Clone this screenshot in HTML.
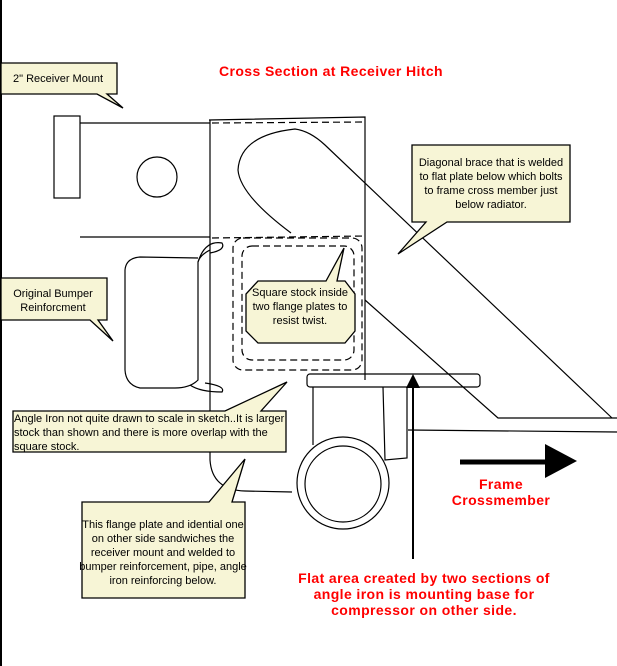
<!DOCTYPE html>
<html><head><meta charset="utf-8"><style>
html,body{margin:0;padding:0;background:#fff}
svg{display:block}
.c{fill:#f7f5d6;stroke:#000;stroke-width:1.3}
.t{font-family:"Liberation Sans",Arial,sans-serif;font-size:11px;fill:#000}
.r{font-family:"Liberation Sans",Arial,sans-serif;font-size:14px;font-weight:bold;fill:#ff0000;letter-spacing:0.4px}
.s{fill:none;stroke:#000;stroke-width:1.2}
.d{fill:none;stroke:#000;stroke-width:1.2;stroke-dasharray:7 4}
</style></head><body>
<svg width="617" height="666" viewBox="0 0 617 666" xmlns="http://www.w3.org/2000/svg">
<rect x="0" y="0" width="2" height="666" fill="#000"/>
<text class="r" x="331" y="76" text-anchor="middle">Cross Section at Receiver Hitch</text>

<!-- receiver -->
<rect class="s" x="54" y="116" width="26" height="82"/>
<line class="s" x1="80" y1="123" x2="210" y2="123"/>
<line class="s" x1="80" y1="237" x2="210" y2="237"/>
<circle class="s" cx="157" cy="177" r="20"/>

<!-- flange plate -->
<path class="s" d="M209,120 L365,117 L365,380"/>
<path class="s" d="M210,120 L210,460 Q212,490 245,491 L292,492"/>
<line class="d" x1="212" y1="123" x2="365" y2="122"/>
<line class="d" x1="212" y1="238" x2="365" y2="236"/>
<path class="s" d="M291,233 Q240,195 238,170 Q240,135 295,129 Q310,131 325,145 L612,418"/>
<path class="s" d="M365,300 L498,418 L617,418"/>
<line class="s" x1="408" y1="430" x2="617" y2="432"/>

<!-- square stock -->
<rect class="d" x="233" y="238" width="129" height="132" rx="10"/>
<rect class="d" x="242" y="246" width="112" height="114" rx="10"/>

<!-- bumper -->
<path class="s" d="M210,250 Q200,255 198,262 L198,380 Q190,388 175,388 L140,388 Q126,385 125,370 L125,270 Q126,258 140,257 L198,258"/>
<path class="s" d="M198,262 Q205,240 222,243 Q226,250 210,253"/>
<path class="s" d="M190,385 Q200,392 222,392 Q226,386 205,383"/>

<!-- angle iron / wheel -->
<rect class="s" x="307" y="374" width="173" height="13" rx="3"/>
<path class="s" d="M313,387 L313,445 M383,387 L385,460 L407,458 L407,387"/>
<circle class="s" cx="343" cy="483" r="46"/>
<circle class="s" cx="343" cy="484" r="38"/>

<!-- arrows -->
<line x1="413" y1="559" x2="413" y2="385" stroke="#000" stroke-width="2"/>
<polygon points="406,388 413,374 420,388" fill="#000"/>
<line x1="460" y1="462" x2="548" y2="462" stroke="#000" stroke-width="5"/>
<polygon points="545,444 577,461 545,478" fill="#000"/>
<text class="r" x="501" y="489" text-anchor="middle">Frame</text>
<text class="r" x="501" y="505" text-anchor="middle">Crossmember</text>
<text class="r" x="424" y="583" text-anchor="middle">Flat area created by two sections of</text>
<text class="r" x="424" y="599" text-anchor="middle">angle iron is mounting base for</text>
<text class="r" x="424" y="615" text-anchor="middle">compressor on other side.</text>

<!-- callouts -->
<path class="c" d="M1,63 L117,63 L117,94 L107,94 L123,108 L97,94 L1,94 Z"/>
<text class="t" x="13" y="82">2" Receiver Mount</text>

<path class="c" d="M412,145 L570,145 L570,222 L447,222 L398,254 L426,222 L412,222 Z"/>
<text class="t" text-anchor="middle" x="491" y="166">Diagonal  brace that is welded</text>
<text class="t" text-anchor="middle" x="491" y="180">to flat plate below which bolts</text>
<text class="t" text-anchor="middle" x="491" y="194">to frame cross member just</text>
<text class="t" text-anchor="middle" x="491" y="208">below radiator.</text>

<path class="c" d="M1,278 L107,278 L107,320 L98,320 L113,341 L90,320 L1,320 Z"/>
<text class="t" text-anchor="middle" x="53" y="297">Original Bumper</text>
<text class="t" text-anchor="middle" x="53" y="311">Reinforcment</text>

<path class="c" d="M258,281 L326,281 L344,248 L337,281 L345,281 L355,294 L355,331 L345,343 L258,343 L246,331 L246,294 Z"/>
<text class="t" text-anchor="middle" x="300" y="296">Square stock inside</text>
<text class="t" text-anchor="middle" x="300" y="310">two flange plates to</text>
<text class="t" text-anchor="middle" x="300" y="324">resist twist.</text>

<path class="c" d="M13,411 L225,411 L287,382 L261,411 L286,411 L286,452 L13,452 Z"/>
<text class="t" x="14" y="422">Angle Iron not quite drawn to scale in sketch..It is larger</text>
<text class="t" x="14" y="436">stock than shown and there is more overlap with the</text>
<text class="t" x="14" y="450">square stock.</text>

<path class="c" d="M82,502 L209,502 L245,459 L232,502 L245,502 L245,598 L82,598 Z"/>
<text class="t" text-anchor="middle" x="163" y="528">This flange plate and idential one</text>
<text class="t" text-anchor="middle" x="163" y="542">on other side sandwiches the</text>
<text class="t" text-anchor="middle" x="163" y="556">receiver mount and welded to</text>
<text class="t" text-anchor="middle" x="163" y="570">bumper reinforcement, pipe, angle</text>
<text class="t" text-anchor="middle" x="163" y="584">iron reinforcing below.</text>
</svg>
</body></html>
